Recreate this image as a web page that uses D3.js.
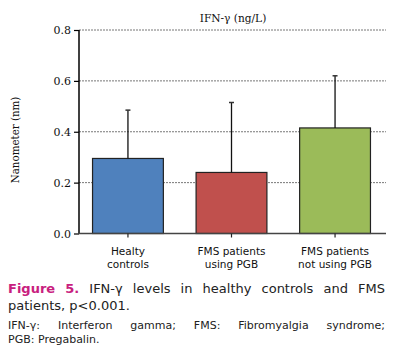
<!DOCTYPE html>
<html><head><meta charset="utf-8">
<script src="https://cdn.jsdelivr.net/npm/d3@7"></script>
<style>body{margin:0;background:#fff}svg{display:block}</style>
</head><body>
<svg id="c" width="405" height="358"></svg>
<script>
const categories = [["Healty","controls"],["FMS patients","using PGB"],["FMS patients","not using PGB"]];
const means = [0.295, 0.240, 0.415];
const upper = [0.485, 0.515, 0.620];
const colors = ["#4f81bd","#c0504d","#9bbb59"];
const yTicks = [0.0, 0.2, 0.4, 0.6, 0.8];

const svg = d3.select("#c");
const pL = 79, pR = 386, pT = 30, pB = 233.5;
const serif = "DejaVu Serif, serif";
const x = d3.scaleBand().domain(d3.range(categories.length)).range([pL-2, pR]).paddingInner(0.316).paddingOuter(0.15);
const y = d3.scaleLinear().domain([0, 0.8]).range([pB, pT]);

// grid
svg.append("g").selectAll("line").data(yTicks.filter(d=>d>0)).join("line")
  .attr("x1", pL).attr("x2", pR).attr("y1", d=>y(d)).attr("y2", d=>y(d))
  .attr("stroke", "#777").attr("stroke-width", 1).attr("stroke-dasharray", "2,1");

// bars
svg.append("g").selectAll("rect").data(means).join("rect")
  .attr("x", (d,i)=>x(i)).attr("width", x.bandwidth())
  .attr("y", d=>y(d)).attr("height", d=>y(0)-y(d))
  .attr("fill", (d,i)=>colors[i]).attr("stroke", "#222").attr("stroke-width", 1.2);

// error bars
const eb = svg.append("g");
means.forEach((m,i)=>{
  const cx = x(i) + x.bandwidth()/2;
  eb.append("line").attr("x1", cx).attr("x2", cx).attr("y1", y(m)).attr("y2", y(upper[i]))
    .attr("stroke", "#111").attr("stroke-width", 1.3);
  eb.append("line").attr("x1", cx-2.5).attr("x2", cx+2.5).attr("y1", y(upper[i])).attr("y2", y(upper[i]))
    .attr("stroke", "#333").attr("stroke-width", 1.5);
});

// y axis
const ya = svg.append("g").attr("transform", `translate(${pL},0)`)
  .call(d3.axisLeft(y).tickValues(yTicks).tickFormat(d3.format(".1f")).tickSize(5).tickPadding(3));
ya.select(".domain").attr("stroke", "#000").attr("stroke-width", 1.5).attr("d", `M0,${pT}V${pB}`);
ya.selectAll(".tick line").attr("stroke", "#000").attr("stroke-width", 1.2);
ya.selectAll(".tick text").attr("font-family", serif).attr("font-size", 11).attr("fill", "#111");

// x axis
const xa = svg.append("g").attr("transform", `translate(0,${pB})`)
  .call(d3.axisBottom(x).tickSize(4).tickFormat(""));
xa.select(".domain").attr("stroke", "#444").attr("stroke-width", 1.5).attr("d", `M${pL},0H${pR}`);
xa.selectAll(".tick line").attr("stroke", "#222").attr("stroke-width", 1.2);
xa.selectAll(".tick").each(function(d){
  const t = d3.select(this).append("text").attr("fill", "#111")
    .attr("font-family", "DejaVu Sans, sans-serif").attr("font-size", 10.5).attr("text-anchor", "middle");
  categories[d].forEach((s,k)=>t.append("tspan").attr("x", 0).attr("y", 21.3 + k*13.3).text(s));
});

// title
svg.append("text").attr("x", 233).attr("y", 21.5).attr("text-anchor", "middle")
  .attr("font-family", serif).attr("font-size", 10.6).attr("fill", "#111").text("IFN-γ (ng/L)");

// y label
svg.append("text").attr("transform", "translate(19,140) rotate(-90)").attr("text-anchor", "middle")
  .attr("font-family", serif).attr("font-size", 10.3).attr("fill", "#111").text("Nanometer (nm)");

// caption (justified lines)
function justify(words, yb, size, x0, x1, justified) {
  const g = svg.append("g");
  const nodes = words.map(w => g.append("text").attr("y", yb).attr("font-size", size)
    .attr("font-family", "DejaVu Sans, sans-serif").attr("fill", w.color || "#222")
    .attr("font-weight", w.bold ? "bold" : "normal").text(w.t));
  const widths = nodes.map(n => n.node().getComputedTextLength());
  const total = d3.sum(widths);
  const gap = justified ? (x1 - x0 - total) / (words.length - 1) : size * 0.32;
  let cx = x0;
  nodes.forEach((n,i)=>{ n.attr("x", cx); cx += widths[i] + gap; });
}
const mag = "#c8207e";
justify([{t:"Figure",bold:true,color:mag},{t:"5.",bold:true,color:mag},{t:"IFN-γ"},{t:"levels"},{t:"in"},{t:"healthy"},{t:"controls"},{t:"and"},{t:"FMS"}], 292.5, 13, 8, 385, true);
justify([{t:"patients,"},{t:"p<0.001."}], 310, 13, 8, 385, false);
justify([{t:"IFN-γ:"},{t:"Interferon"},{t:"gamma;"},{t:"FMS:"},{t:"Fibromyalgia"},{t:"syndrome;"}], 329, 11, 8, 385, true);
justify([{t:"PGB:"},{t:"Pregabalin."}], 342.5, 11, 8, 385, false);
</script>
</body></html>
